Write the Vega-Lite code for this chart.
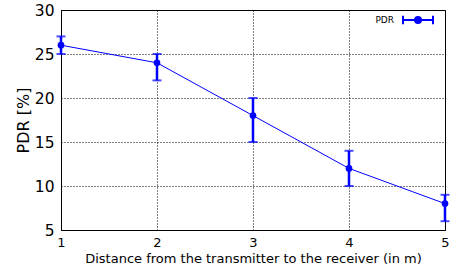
{
  "$schema": "https://vega.github.io/schema/vega-lite/v6.json",
  "width": 384,
  "height": 220,
  "autosize": {"type": "none"},
  "padding": {"left": 61, "top": 10, "right": 8, "bottom": 44},
  "background": "white",
  "config": {
    "font": "DejaVu Sans",
    "view": {"stroke": "black", "strokeWidth": 1},
    "axis": {
      "grid": true,
      "gridColor": "black",
      "gridDash": [1, 2],
      "gridWidth": 1,
      "gridOpacity": 1,
      "domain": false,
      "ticks": false,
      "labelColor": "black",
      "titleColor": "black",
      "titleFontWeight": "normal"
    }
  },
  "data": {
    "values": [
      {"distance": 1, "pdr": 26, "low": 25, "high": 27, "series": "PDR"},
      {"distance": 2, "pdr": 24, "low": 22, "high": 25, "series": "PDR"},
      {"distance": 3, "pdr": 18, "low": 15, "high": 20, "series": "PDR"},
      {"distance": 4, "pdr": 12, "low": 10, "high": 14, "series": "PDR"},
      {"distance": 5, "pdr": 8, "low": 6, "high": 9, "series": "PDR"}
    ]
  },
  "encoding": {
    "x": {
      "field": "distance",
      "type": "quantitative",
      "scale": {"domain": [1, 5], "nice": false, "zero": false},
      "axis": {
        "values": [1, 2, 3, 4, 5],
        "title": "Distance from the transmitter to the receiver (in m)",
        "labelFontSize": 13,
        "labelPadding": 6,
        "titleFontSize": 13,
        "titlePadding": 3,
        "labelFlush": false
      }
    }
  },
  "layer": [
    {
      "mark": {"type": "line", "color": "#0000ff", "strokeWidth": 1},
      "encoding": {
        "y": {
          "field": "pdr",
          "type": "quantitative",
          "scale": {"domain": [5, 30], "nice": false, "zero": false},
          "axis": {
            "values": [5, 10, 15, 20, 25, 30],
            "title": "PDR [%]",
            "labelFontSize": 15.5,
            "labelPadding": 7,
            "titleFontSize": 16,
            "titlePadding": 3,
            "labelFlush": false
          }
        }
      }
    },
    {
      "mark": {"type": "rule", "color": "#0000ff", "strokeWidth": 2.5},
      "encoding": {
        "y": {"field": "low", "type": "quantitative"},
        "y2": {"field": "high"}
      }
    },
    {
      "mark": {"type": "tick", "color": "#0000ff", "orient": "horizontal", "thickness": 2, "size": 9},
      "encoding": {"y": {"field": "low", "type": "quantitative"}}
    },
    {
      "mark": {"type": "tick", "color": "#0000ff", "orient": "horizontal", "thickness": 2, "size": 9},
      "encoding": {"y": {"field": "high", "type": "quantitative"}}
    },
    {
      "mark": {"type": "point", "filled": true, "opacity": 1, "size": 45, "shape": "circle"},
      "encoding": {
        "y": {"field": "pdr", "type": "quantitative"},
        "color": {
          "field": "series",
          "type": "nominal",
          "scale": {"range": ["#0000ff"]},
          "legend": {
            "orient": "none",
            "legendX": 341,
            "legendY": -6,
            "title": null,
            "labelAlign": "right",
            "labelOffset": -40,
            "labelFontSize": 9,
            "labelColor": "black",
            "symbolType": "M-1,-0.28V0.28M-1,0H1M1,-0.28V0.28M-0.2,0A0.2,0.2,0,1,0,0.2,0A0.2,0.2,0,1,0,-0.2,0Z",
            "symbolSize": 900,
            "symbolStrokeWidth": 2,
            "symbolStrokeColor": "#0000ff",
            "symbolFillColor": "#0000ff",
            "padding": 0
          }
        }
      }
    }
  ]
}
